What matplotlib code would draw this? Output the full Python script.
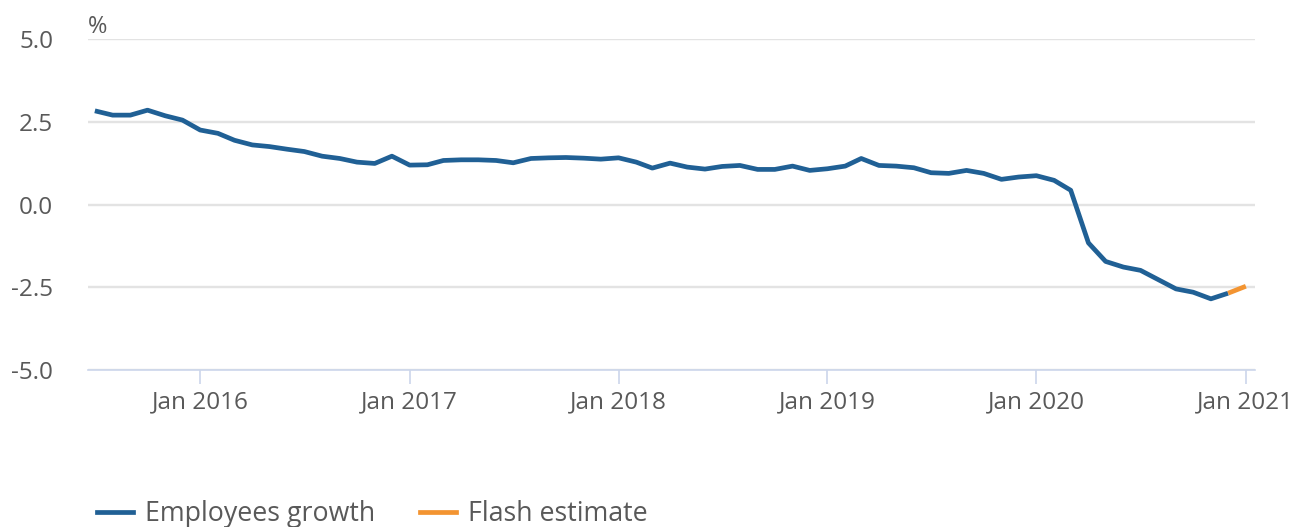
import matplotlib
matplotlib.use("Agg")
import matplotlib.pyplot as plt
import matplotlib.dates as mdates
import numpy as np
import pandas as pd
from matplotlib.lines import Line2D

plt.rcParams['font.family'] = ['Open Sans', 'DejaVu Sans']

dates = pd.date_range("2015-07-01", "2020-12-01", freq="MS")
growth = [
    2.83, 2.70, 2.70, 2.85, 2.68, 2.55,            # Jul-Dec 2015
    2.25, 2.15, 1.94, 1.80, 1.75, 1.67,            # Jan-Jun 2016
    1.60, 1.46, 1.39, 1.28, 1.24, 1.46,            # Jul-Dec 2016
    1.19, 1.20, 1.33, 1.35, 1.35, 1.33,            # Jan-Jun 2017
    1.26, 1.39, 1.41, 1.42, 1.40, 1.37,            # Jul-Dec 2017
    1.41, 1.28, 1.10, 1.25, 1.13, 1.07,            # Jan-Jun 2018
    1.15, 1.18, 1.06, 1.06, 1.16, 1.03,            # Jul-Dec 2018
    1.08, 1.16, 1.39, 1.18, 1.16, 1.11,            # Jan-Jun 2019
    0.96, 0.94, 1.03, 0.94, 0.76, 0.83,            # Jul-Dec 2019
    0.87, 0.73, 0.43, -1.16, -1.72, -1.89,         # Jan-Jun 2020
    -1.99, -2.27, -2.55, -2.65, -2.85, -2.68,      # Jul-Dec 2020
]
flash_dates = pd.to_datetime(["2020-12-01", "2021-01-01"])
flash = [-2.68, -2.47]

yticks = [-5.0, -2.5, 0.0, 2.5, 5.0]
xtick_dates = pd.to_datetime(["2016-01-01", "2017-01-01", "2018-01-01",
                              "2019-01-01", "2020-01-01", "2021-01-01"])
xtick_labels = ["Jan 2016", "Jan 2017", "Jan 2018", "Jan 2019", "Jan 2020", "Jan 2021"]

BLUE = "#206095"
ORANGE = "#f39431"
TXT = "#595959"

W, H = 1295, 527
fig = plt.figure(figsize=(W / 100, H / 100), dpi=100)
ax = fig.add_axes([88 / W, (H - 370) / H, (1255 - 88) / W, (370 - 39) / H])

ax.plot(dates, growth, color=BLUE, lw=3.4, solid_joinstyle='round', solid_capstyle='butt', zorder=3)
ax.plot(flash_dates, flash, color=ORANGE, lw=3.4, solid_capstyle='butt', zorder=3)

ax.set_ylim(-5, 5)
ax.set_xlim(pd.Timestamp("2015-06-19"), pd.Timestamp("2021-01-17"))
ax.set_yticks(yticks)
ax.set_yticklabels([f"{v:.1f}" for v in yticks])
ax.set_xticks(xtick_dates)
ax.set_xticklabels(xtick_labels)

for s in ["top", "right", "left"]:
    ax.spines[s].set_visible(False)
ax.spines["bottom"].set_color("#ccd6eb")
ax.spines["bottom"].set_linewidth(1.2)

ax.grid(axis="y", color="#e3e3e3", lw=1.7, zorder=0)
ax.tick_params(axis="y", length=0, pad=25, labelsize=17.5, labelcolor=TXT)
ax.tick_params(axis="x", length=10, width=1.2, color="#ccd6eb", pad=5, labelsize=17.5, labelcolor=TXT)

fig.text(88 / W, 1 - 33 / H, "%", fontsize=17, color=TXT, va="baseline", ha="left")

handles = [Line2D([], [], color=BLUE, lw=3.4), Line2D([], [], color=ORANGE, lw=3.4)]
leg = fig.legend(handles, ["Employees growth", "Flash estimate"], loc="center left",
                 bbox_to_anchor=(97 / W, 1 - 514 / H), ncol=2, frameon=False,
                 fontsize=19.3, handlelength=1.35, handletextpad=0.44, columnspacing=1.67,
                 labelcolor=TXT, borderaxespad=0, borderpad=0)

fig.savefig("out.png", dpi=100, facecolor="white")
